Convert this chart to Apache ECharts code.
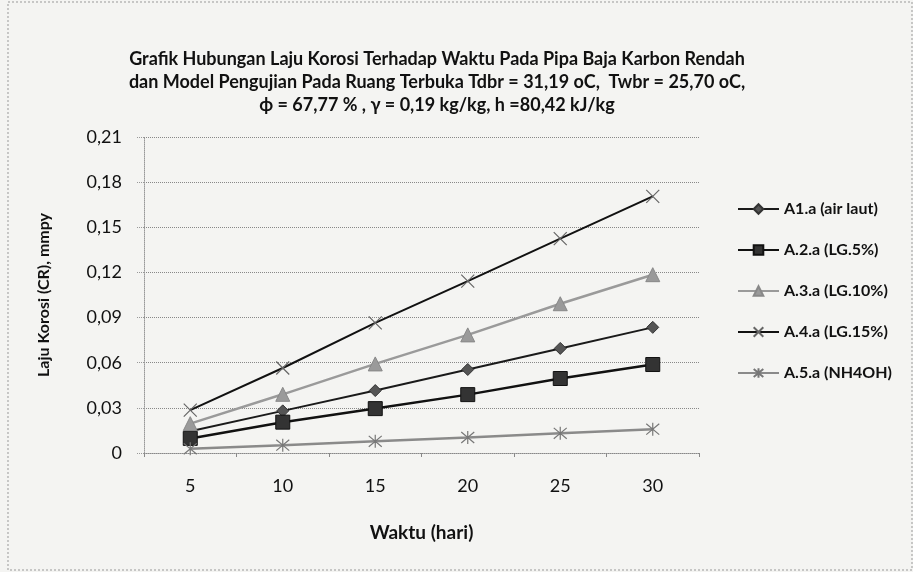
<!DOCTYPE html>
<html>
<head>
<meta charset="utf-8">
<script src="https://cdn.jsdelivr.net/npm/echarts@6/dist/echarts.min.js"></script>
<style>
  html, body { margin: 0; padding: 0; background: #f4f4f2; }
  #chart { width: 913px; height: 572px; }
</style>
</head>
<body>
<div id="chart"></div>
<script>
// waktu (hari)
const days = ['5', '10', '15', '20', '25', '30'];
// laju korosi, mmpy
const airLaut = [0.0145, 0.028, 0.0415, 0.0555, 0.0695, 0.0835];
const lg5 = [0.0097, 0.0205, 0.0295, 0.0388, 0.0495, 0.0588];
const lg10 = [0.0195, 0.039, 0.0592, 0.0785, 0.0992, 0.1185];
const lg15 = [0.0285, 0.0565, 0.0865, 0.1142, 0.1425, 0.1705];
const nh4oh = [0.0028, 0.0052, 0.0078, 0.0103, 0.0131, 0.0158];

const seriesNames = ['A1.a (air laut)', 'A.2.a (LG.5%)', 'A.3.a (LG.10%)', 'A.4.a (LG.15%)', 'A.5.a (NH4OH)'];

const crossPath = 'path://M0,0L10,10M10,0L0,10';
const starPath = 'path://M0,0L10,10M10,0L0,10M5,-1L5,11';

const font = 'Lato, "Open Sans", sans-serif';

let chart = echarts.init(document.getElementById('chart'));
chart.setOption({
  backgroundColor: '#f4f4f2',
  textStyle: { fontFamily: font, color: '#111' },
  title: {
    text: 'Grafik Hubungan Laju Korosi Terhadap Waktu Pada Pipa Baja Karbon Rendah\n' +
      'dan Model Pengujian Pada Ruang Terbuka Tdbr = 31,19 oC,  Twbr = 25,70 oC,\n' +
      'ϕ = 67,77 % , γ = 0,19 kg/kg, h =80,42 kJ/kg',
    left: 432,
    top: 43,
    textAlign: 'center',
    textStyle: { fontSize: 18, fontWeight: 'bold', lineHeight: 23, color: '#111', fontFamily: font }
  },
  grid: { left: 144, right: 214, top: 137, bottom: 119 },
  legend: {
    orient: 'vertical',
    left: 732,
    top: 196,
    itemGap: 25,
    itemWidth: 41,
    itemHeight: 12,
    textStyle: { fontSize: 16, fontWeight: 'bold', color: '#111', fontFamily: font },
    data: seriesNames
  },
  xAxis: {
    type: 'category',
    data: days,
    name: 'Waktu (hari)',
    nameLocation: 'middle',
    nameGap: 70,
    nameTextStyle: { fontSize: 19, fontWeight: 'bold', color: '#111' },
    axisLine: { lineStyle: { color: '#888', type: 'dotted', width: 1 } },
    axisTick: { show: true, length: 4, lineStyle: { color: '#888' } },
    axisLabel: { fontSize: 18, color: '#111', margin: 24 }
  },
  yAxis: {
    type: 'value',
    min: 0,
    max: 0.21,
    interval: 0.03,
    name: 'Laju Korosi (CR), mmpy',
    nameLocation: 'middle',
    nameGap: 92,
    nameTextStyle: { fontSize: 16, fontWeight: 'bold', color: '#111' },
    axisLine: { show: true, lineStyle: { color: '#999', type: 'dotted' } },
    axisTick: { show: true, length: 7, lineStyle: { color: '#999', type: 'dotted' } },
    axisLabel: {
      fontSize: 18, color: '#111', margin: 22,
      formatter: v => v === 0 ? '0' : v.toFixed(2).replace('.', ',')
    },
    splitLine: { lineStyle: { color: '#888', type: 'dotted', width: 1 } }
  },
  series: [
    {
      name: seriesNames[0], type: 'line', data: airLaut,
      symbol: 'diamond', symbolSize: 12,
      lineStyle: { color: '#1a1a1a', width: 2 },
      itemStyle: { color: '#555', borderColor: '#333', borderWidth: 1 }
    },
    {
      name: seriesNames[1], type: 'line', data: lg5,
      symbol: 'rect', symbolSize: 14,
      lineStyle: { color: '#111', width: 2.5 },
      itemStyle: { color: '#333', borderColor: '#111', borderWidth: 1 }
    },
    {
      name: seriesNames[2], type: 'line', data: lg10,
      symbol: 'triangle', symbolSize: 14,
      lineStyle: { color: '#9a9a9a', width: 2.5 },
      itemStyle: { color: '#9a9a9a', borderColor: '#888', borderWidth: 1 }
    },
    {
      name: seriesNames[3], type: 'line', data: lg15,
      symbol: crossPath, symbolSize: 13,
      lineStyle: { color: '#111', width: 2 },
      itemStyle: { color: 'none', borderColor: '#666', borderWidth: 1.2 }
    },
    {
      name: seriesNames[4], type: 'line', data: nh4oh,
      symbol: starPath, symbolSize: 13,
      lineStyle: { color: '#8a8a8a', width: 2.5 },
      itemStyle: { color: 'none', borderColor: '#777', borderWidth: 1.2 }
    }
  ],
  graphic: [{
    type: 'rect',
    shape: { x: 8, y: 2, width: 904, height: 568 },
    style: { fill: 'none', stroke: '#999', lineWidth: 1, lineDash: [2, 2] },
    silent: true
  }]
});
</script>
</body>
</html>
